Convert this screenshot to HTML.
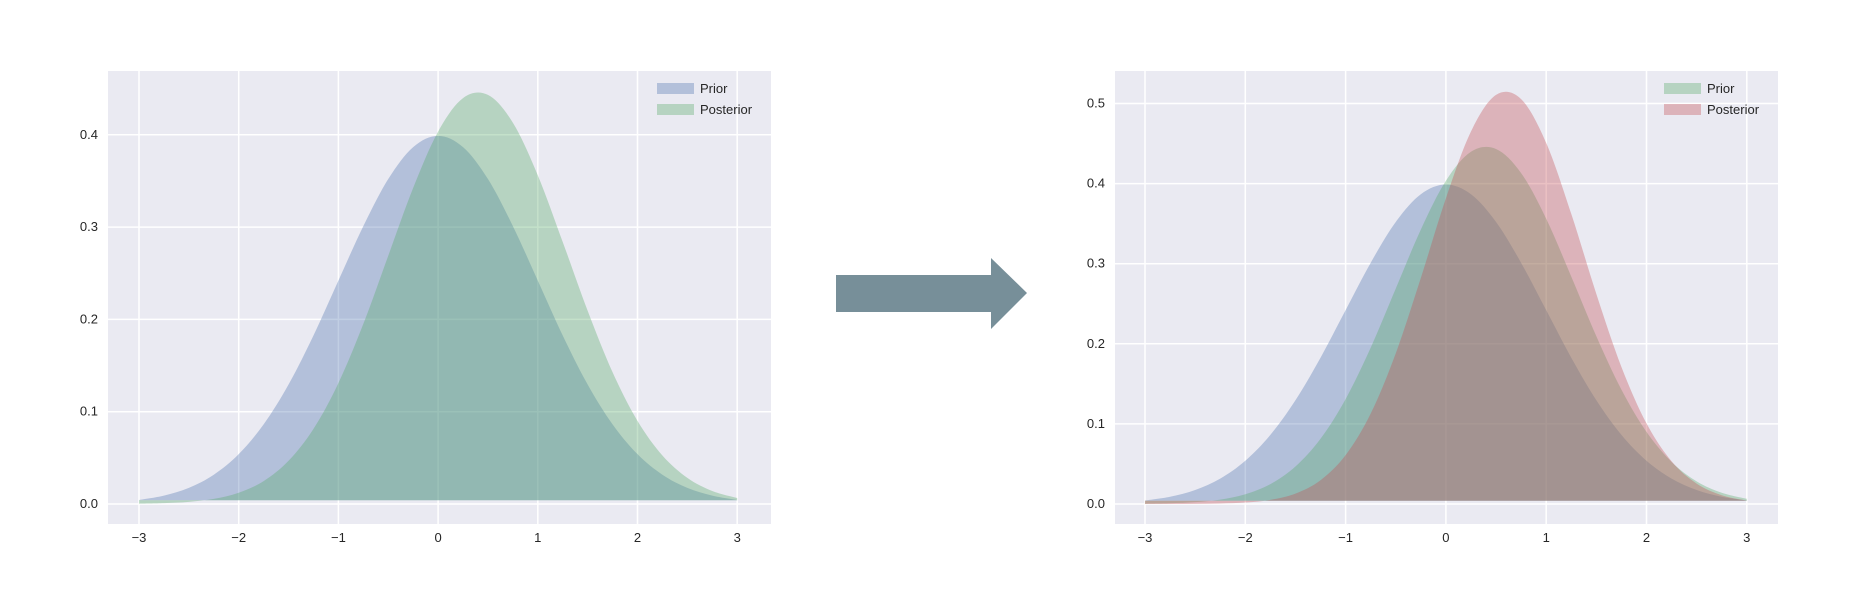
<!DOCTYPE html>
<html><head><meta charset="utf-8"><style>
html,body{margin:0;padding:0;background:#fff;}
svg{display:block;font-family:"Liberation Sans",sans-serif;}
</style></head><body>
<svg id="root" width="1865" height="589" viewBox="0 0 1865 589">
<g id="left"></g>
<g id="right"></g>
<polygon points="836,275 991,275 991,258 1027,293 991,329 991,312 836,312" fill="#778f99"/>
</svg>
<script>
const xGrid = [-3,-2.75,-2.5,-2.25,-2,-1.75,-1.5,-1.25,-1,-0.75,-0.5,-0.25,0,0.25,0.5,0.75,1,1.25,1.5,1.75,2,2.25,2.5,2.75,3];
const priorVals = [0.0044,0.0091,0.0175,0.0317,0.0540,0.0863,0.1295,0.1826,0.2420,0.3011,0.3521,0.3867,0.3989,0.3867,0.3521,0.3011,0.2420,0.1826,0.1295,0.0863,0.0540,0.0317,0.0175,0.0091,0.0044];
const post1Vals = [0.0003,0.0009,0.0023,0.0055,0.0122,0.0248,0.0468,0.0814,0.1310,0.1951,0.2689,0.3425,0.4035,0.4398,0.4432,0.4131,0.3561,0.2839,0.2094,0.1428,0.0900,0.0525,0.0283,0.0141,0.0065];
const post2Vals = [0.0000,0.0000,0.0002,0.0006,0.0018,0.0052,0.0130,0.0297,0.0610,0.1128,0.1880,0.2821,0.3815,0.4650,0.5107,0.5054,0.4507,0.3622,0.2622,0.1711,0.1006,0.0533,0.0254,0.0109,0.0042];
const xTicks = [-3,-2,-1,0,1,2,3];
const xTickLabels = ["\u22123","\u22122","\u22121","0","1","2","3"];
const leftYTicks = [0,0.1,0.2,0.3,0.4];
const leftYLabels = ["0.0","0.1","0.2","0.3","0.4"];
const rightYTicks = [0,0.1,0.2,0.3,0.4,0.5];
const rightYLabels = ["0.0","0.1","0.2","0.3","0.4","0.5"];
const baseline = 0.004;

const NS="http://www.w3.org/2000/svg";
function mk(tag,attrs,parent){const e=document.createElementNS(NS,tag);for(const k in attrs)e.setAttribute(k,attrs[k]);parent.appendChild(e);return e;}

function smoothPath(pts){
  let d=`M${pts[0][0]},${pts[0][1]}`;
  for(let i=0;i<pts.length-1;i++){
    const p0=pts[Math.max(0,i-1)],p1=pts[i],p2=pts[i+1],p3=pts[Math.min(pts.length-1,i+2)];
    const c1x=p1[0]+(p2[0]-p0[0])/6,c1y=p1[1]+(p2[1]-p0[1])/6;
    const c2x=p2[0]-(p3[0]-p1[0])/6,c2y=p2[1]-(p3[1]-p1[1])/6;
    d+=` C${c1x},${c1y} ${c2x},${c2y} ${p2[0]},${p2[1]}`;
  }
  return d;
}

function chart(g,cfg){
  const X=v=>cfg.x0+(v+3)*cfg.xu;
  const Y=v=>cfg.y0-v*cfg.yu;
  const bg=mk('rect',{x:cfg.l,y:cfg.t,width:cfg.r-cfg.l,height:cfg.b-cfg.t,fill:'#eaeaf2'},g);
  
  
  xTicks.forEach((t,i)=>{
    const ln=mk('line',{x1:X(t),x2:X(t),y1:cfg.t,y2:cfg.b,stroke:'#fff','stroke-width':1.5},g);
    
    
    const tx=mk('text',{x:X(t),y:cfg.b+18,'text-anchor':'middle','font-size':13,fill:'#262626'},g);
    tx.textContent=xTickLabels[i];
    
    
  });
  cfg.yTicks.forEach((t,i)=>{
    const ln=mk('line',{x1:cfg.l,x2:cfg.r,y1:Y(t),y2:Y(t),stroke:'#fff','stroke-width':1.5},g);
    
    
    const tx=mk('text',{x:cfg.l-10,y:Y(t)+4,'text-anchor':'end','font-size':13,fill:'#262626'},g);
    tx.textContent=cfg.yLabels[i];
    
    
  });
  cfg.series.forEach(s=>{
    const top=xGrid.map((x,i)=>[X(x),Y(s.vals[i])]);
    let d=smoothPath(top);
    d+=` L${X(3)},${Y(baseline)} L${X(-3)},${Y(baseline)} Z`;
    const p=mk('path',{d:d,fill:s.color,'fill-opacity':0.35},g);
    
    
  });
  cfg.legend.forEach((L,i)=>{
    const y=cfg.t+12+i*21;
    const r=mk('rect',{x:cfg.legX,y:y,width:37,height:11,fill:L.color,'fill-opacity':0.35},g);
    
    
    const tx=mk('text',{x:cfg.legX+43,y:y+10,'font-size':13,fill:'#262626'},g);
    tx.textContent=L.label;
    
    
  });
}
const BLUE='#4c72b0',GREEN='#55a868',RED='#c44e52';
chart(document.getElementById('left'),{l:108,r:771,t:71,b:524,x0:139,xu:99.7,y0:504,yu:923,
  yTicks:leftYTicks,yLabels:leftYLabels,legX:657,
  series:[{vals:priorVals,color:BLUE,name:'prior-area'},{vals:post1Vals,color:GREEN,name:'posterior-area'}],
  legend:[{color:BLUE,label:'Prior'},{color:GREEN,label:'Posterior'}]});
chart(document.getElementById('right'),{l:1115,r:1778,t:71,b:524,x0:1145,xu:100.3,y0:504,yu:801,
  yTicks:rightYTicks,yLabels:rightYLabels,legX:1664,
  series:[{vals:priorVals,color:BLUE,name:'original-prior-area'},{vals:post1Vals,color:GREEN,name:'prior-area'},{vals:post2Vals,color:RED,name:'posterior-area'}],
  legend:[{color:GREEN,label:'Prior'},{color:RED,label:'Posterior'}]});
</script>
</body></html>
